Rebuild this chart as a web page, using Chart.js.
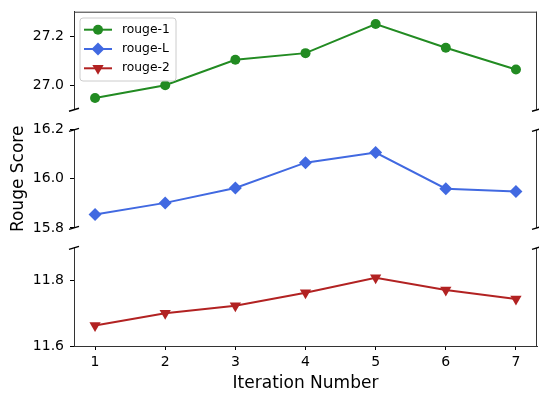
<!DOCTYPE html>
<html><head><meta charset="utf-8">
<script src="https://cdn.jsdelivr.net/npm/chart.js@4/dist/chart.umd.min.js"></script>
<style>html,body{margin:0;padding:0;background:#fff}#wrap{width:539px;height:394px;position:relative}</style>
</head><body><div id="wrap"><canvas id="c" width="539" height="394"></canvas></div>
<script>
const iterations = [1, 2, 3, 4, 5, 6, 7];
const rouge1 = [26.948, 27.000, 27.104, 27.131, 27.250, 27.153, 27.064];
const rougeL = [15.855, 15.902, 15.963, 16.066, 16.107, 15.960, 15.948];
const rouge2 = [11.663, 11.700, 11.723, 11.763, 11.809, 11.771, 11.744];
const seriesNames = ['rouge-1', 'rouge-L', 'rouge-2'];
const xTicks = [1, 2, 3, 4, 5, 6, 7];
const topTicks = [27.0, 27.2];
const midTicks = [15.8, 16.0, 16.2];
const botTicks = [11.6, 11.8];
const xLabel = 'Iteration Number';
const yLabel = 'Rouge Score';

const FONT = 'DejaVu Sans';
const pts = vals => iterations.map((x, i) => ({x: x, y: vals[i]}));

function yAxis(min, max, tickArr, weight, extra) {
  return Object.assign({
    type: 'linear', position: 'left', stack: 'v', stackWeight: 98, weight: weight,
    min: min, max: max,
    afterBuildTicks: s => { s.ticks = tickArr.map(v => ({value: v})); },
    afterFit: s => { s.width = 74; s.paddingTop = 0; s.paddingBottom = 0; },
    grid: {drawOnChartArea: false, drawTicks: true, tickLength: 4, tickColor: '#000', tickWidth: 1},
    border: {display: true, color: '#333', width: 1},
    ticks: {font: {family: FONT, size: 14}, color: '#000', padding: 6, callback: v => Number(v).toFixed(1)}
  }, extra || {});
}
function gapAxis(weight) {
  return {type: 'linear', position: 'left', stack: 'v', stackWeight: 20, weight: weight, display: false};
}

const decor = {
  id: 'decor',
  afterDraw(chart) {
    const ctx = chart.ctx;
    const ca = chart.chartArea;
    const s = chart.scales;
    ctx.save();
    ctx.strokeStyle = '#333';
    ctx.lineWidth = 1;
    // top border
    ctx.beginPath();
    ctx.moveTo(ca.left, s.yTop.top + 0.5);
    ctx.lineTo(ca.right, s.yTop.top + 0.5);
    ctx.stroke();
    // right spines
    [s.yTop, s.yMid, s.yBot].forEach(a => {
      ctx.beginPath();
      ctx.moveTo(ca.right - 0.5, a.top);
      ctx.lineTo(ca.right - 0.5, a.bottom);
      ctx.stroke();
    });
    // break marks
    ctx.strokeStyle = '#000';
    ctx.lineWidth = 1.4;
    const ys = [s.yTop.bottom, s.yMid.top, s.yMid.bottom, s.yBot.top];
    ys.forEach(y => {
      [ca.left, ca.right].forEach(x => {
        ctx.beginPath();
        ctx.moveTo(x - 5, y + 1.5);
        ctx.lineTo(x + 5, y - 1.5);
        ctx.stroke();
      });
    });
    // legend
    const lx = 80, ly = 18, lw = 96, lh = 63;
    ctx.beginPath();
    if (ctx.roundRect) ctx.roundRect(lx, ly, lw, lh, 3); else ctx.rect(lx, ly, lw, lh);
    ctx.fillStyle = 'rgba(255,255,255,0.8)';
    ctx.fill();
    ctx.strokeStyle = '#cccccc';
    ctx.lineWidth = 1;
    ctx.stroke();
    chart.data.datasets.forEach((ds, i) => {
      const yy = 29.7 + i * 19.3;
      ctx.strokeStyle = ds.borderColor;
      ctx.lineWidth = ds.borderWidth;
      ctx.beginPath();
      ctx.moveTo(84, yy);
      ctx.lineTo(112, yy);
      ctx.stroke();
      ctx.fillStyle = ds.pointBackgroundColor;
      ctx.strokeStyle = ds.pointBorderColor;
      ctx.lineWidth = 0;
      Chart.helpers.drawPoint(ctx, {pointStyle: ds.pointStyle, radius: ds.pointRadius, rotation: ds.pointRotation || 0, borderWidth: 0}, 98, yy);
      ctx.fillStyle = '#000';
      ctx.font = '12.3px "' + FONT + '"';
      ctx.textBaseline = 'middle';
      ctx.textAlign = 'left';
      ctx.fillText(ds.label, 122, yy);
    });
    ctx.restore();
  }
};

const mk = (label, vals, color, axis, style, radius, rot) => ({
  label: label, data: pts(vals), yAxisID: axis,
  borderColor: color, backgroundColor: color, borderWidth: 2,
  pointStyle: style, pointRadius: radius, pointHoverRadius: radius, pointRotation: rot || 0,
  pointBackgroundColor: color, pointBorderColor: color, pointBorderWidth: 0,
  tension: 0, fill: false
});

new Chart(document.getElementById('c'), {
  type: 'line',
  data: {
    datasets: [
      mk(seriesNames[0], rouge1, '#228B22', 'yTop', 'circle', 5),
      mk(seriesNames[1], rougeL, '#4169E1', 'yMid', 'rectRot', 6.5),
      mk(seriesNames[2], rouge2, '#B22222', 'yBot', 'triangle', 6.5, 180)
    ]
  },
  options: {
    responsive: false, animation: false, devicePixelRatio: 1,
    layout: {autoPadding: false, padding: {top: 11.7, right: 2, left: 0, bottom: 0}},
    plugins: {legend: {display: false}, tooltip: {enabled: false}},
    scales: {
      x: {
        type: 'linear', position: 'bottom', min: 0.7, max: 7.3,
        afterBuildTicks: s => { s.ticks = xTicks.map(v => ({value: v})); },
        afterFit: s => { s.height = 48; s.paddingLeft = 0; s.paddingRight = 0; },
        grid: {drawOnChartArea: false, drawTicks: true, tickLength: 4, tickColor: '#000', tickWidth: 1},
        border: {display: true, color: '#333', width: 1},
        ticks: {font: {family: FONT, size: 14}, color: '#000', padding: 4, maxRotation: 0},
        title: {display: true, text: xLabel, font: {family: FONT, size: 17}, color: '#000', padding: {top: 0, bottom: 0}}
      },
      yBot: yAxis(11.6, 11.9, botTicks, 1),
      gap2: gapAxis(2),
      yMid: yAxis(15.8, 16.2, midTicks, 3, {
        title: {display: true, text: yLabel, font: {family: FONT, size: 17}, color: '#000', padding: {top: 8, bottom: 0}}
      }),
      gap1: gapAxis(4),
      yTop: yAxis(26.9, 27.3, topTicks, 5)
    }
  },
  plugins: [decor]
});
</script>
</body></html>
